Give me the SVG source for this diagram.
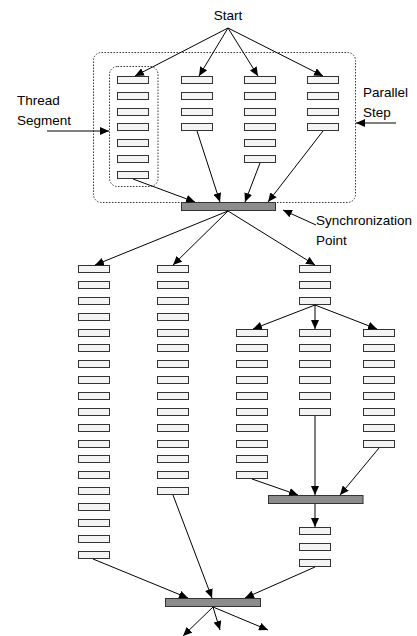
<svg xmlns="http://www.w3.org/2000/svg" width="417" height="636" viewBox="0 0 417 636">
<defs>
<marker id="ah" markerUnits="userSpaceOnUse" markerWidth="10" markerHeight="8" refX="9" refY="4" orient="auto">
<path d="M0,0 L9,4 L0,8 Z" fill="#000"/>
</marker>
<style>
.b{fill:#f4f4f4;stroke:#333;stroke-width:1}
.bar{fill:#8c8c8c;stroke:#333;stroke-width:1}
.fr{fill:none;stroke:#333;stroke-width:1;stroke-dasharray:1.5 1.5}
.c{stroke:#000;stroke-width:1;fill:none;marker-end:url(#ah)}
.t{font-family:"Liberation Sans",Arial,sans-serif;font-size:13.5px;fill:#000}
</style>
</defs>
<rect width="417" height="636" fill="#fff"/>
<g id="labels">
<text class="t" x="228" y="20" text-anchor="middle">Start</text>
<text class="t" x="17" y="105">Thread</text>
<text class="t" x="17" y="125">Segment</text>
<text class="t" x="363" y="97">Parallel</text>
<text class="t" x="363" y="117">Step</text>
<text class="t" x="316" y="225">Synchronization</text>
<text class="t" x="316" y="245">Point</text>
</g>
<g id="frames">
<rect id="parallel-step" class="fr" x="93.5" y="52.5" width="262" height="150" rx="8"/>
<rect id="thread-segment" class="fr" x="109.5" y="66.5" width="48.5" height="120" rx="8"/>
</g>
<g id="top-col1">
<rect class="b" x="117.5" y="76.5" width="31" height="7"/>
<rect class="b" x="117.5" y="92.5" width="31" height="7"/>
<rect class="b" x="117.5" y="108.5" width="31" height="7"/>
<rect class="b" x="117.5" y="123.5" width="31" height="7"/>
<rect class="b" x="117.5" y="139.5" width="31" height="7"/>
<rect class="b" x="117.5" y="155.5" width="31" height="7"/>
<rect class="b" x="117.5" y="171.5" width="31" height="7"/>
</g>
<g id="top-col2">
<rect class="b" x="181.5" y="76.5" width="31" height="7"/>
<rect class="b" x="181.5" y="92.5" width="31" height="7"/>
<rect class="b" x="181.5" y="108.5" width="31" height="7"/>
<rect class="b" x="181.5" y="123.5" width="31" height="7"/>
</g>
<g id="top-col3">
<rect class="b" x="244.5" y="76.5" width="31" height="7"/>
<rect class="b" x="244.5" y="92.5" width="31" height="7"/>
<rect class="b" x="244.5" y="108.5" width="31" height="7"/>
<rect class="b" x="244.5" y="123.5" width="31" height="7"/>
<rect class="b" x="244.5" y="139.5" width="31" height="7"/>
<rect class="b" x="244.5" y="155.5" width="31" height="7"/>
</g>
<g id="top-col4">
<rect class="b" x="307.5" y="76.5" width="31" height="7"/>
<rect class="b" x="307.5" y="92.5" width="31" height="7"/>
<rect class="b" x="307.5" y="108.5" width="31" height="7"/>
<rect class="b" x="307.5" y="123.5" width="31" height="7"/>
</g>
<g id="sync1"><rect class="bar" x="181.5" y="202.5" width="94" height="8"/></g>
<g id="colA">
<rect class="b" x="78.5" y="265.5" width="31" height="7"/>
<rect class="b" x="78.5" y="281.5" width="31" height="7"/>
<rect class="b" x="78.5" y="297.5" width="31" height="7"/>
<rect class="b" x="78.5" y="313.5" width="31" height="7"/>
<rect class="b" x="78.5" y="329.5" width="31" height="7"/>
<rect class="b" x="78.5" y="344.5" width="31" height="7"/>
<rect class="b" x="78.5" y="360.5" width="31" height="7"/>
<rect class="b" x="78.5" y="376.5" width="31" height="7"/>
<rect class="b" x="78.5" y="392.5" width="31" height="7"/>
<rect class="b" x="78.5" y="408.5" width="31" height="7"/>
<rect class="b" x="78.5" y="424.5" width="31" height="7"/>
<rect class="b" x="78.5" y="440.5" width="31" height="7"/>
<rect class="b" x="78.5" y="455.5" width="31" height="7"/>
<rect class="b" x="78.5" y="471.5" width="31" height="7"/>
<rect class="b" x="78.5" y="487.5" width="31" height="7"/>
<rect class="b" x="78.5" y="503.5" width="31" height="7"/>
<rect class="b" x="78.5" y="519.5" width="31" height="7"/>
<rect class="b" x="78.5" y="535.5" width="31" height="7"/>
<rect class="b" x="78.5" y="551.5" width="31" height="7"/>
</g>
<g id="colB">
<rect class="b" x="157.5" y="265.5" width="31" height="7"/>
<rect class="b" x="157.5" y="281.5" width="31" height="7"/>
<rect class="b" x="157.5" y="297.5" width="31" height="7"/>
<rect class="b" x="157.5" y="313.5" width="31" height="7"/>
<rect class="b" x="157.5" y="329.5" width="31" height="7"/>
<rect class="b" x="157.5" y="344.5" width="31" height="7"/>
<rect class="b" x="157.5" y="360.5" width="31" height="7"/>
<rect class="b" x="157.5" y="376.5" width="31" height="7"/>
<rect class="b" x="157.5" y="392.5" width="31" height="7"/>
<rect class="b" x="157.5" y="408.5" width="31" height="7"/>
<rect class="b" x="157.5" y="424.5" width="31" height="7"/>
<rect class="b" x="157.5" y="440.5" width="31" height="7"/>
<rect class="b" x="157.5" y="455.5" width="31" height="7"/>
<rect class="b" x="157.5" y="471.5" width="31" height="7"/>
<rect class="b" x="157.5" y="487.5" width="31" height="7"/>
</g>
<g id="colC">
<rect class="b" x="299.5" y="265.5" width="31" height="7"/>
<rect class="b" x="299.5" y="281.5" width="31" height="7"/>
<rect class="b" x="299.5" y="297.5" width="31" height="7"/>
</g>
<g id="subL">
<rect class="b" x="236.5" y="329.5" width="31" height="7"/>
<rect class="b" x="236.5" y="344.5" width="31" height="7"/>
<rect class="b" x="236.5" y="360.5" width="31" height="7"/>
<rect class="b" x="236.5" y="376.5" width="31" height="7"/>
<rect class="b" x="236.5" y="392.5" width="31" height="7"/>
<rect class="b" x="236.5" y="408.5" width="31" height="7"/>
<rect class="b" x="236.5" y="424.5" width="31" height="7"/>
<rect class="b" x="236.5" y="440.5" width="31" height="7"/>
<rect class="b" x="236.5" y="455.5" width="31" height="7"/>
<rect class="b" x="236.5" y="471.5" width="31" height="7"/>
</g>
<g id="subM">
<rect class="b" x="299.5" y="329.5" width="31" height="7"/>
<rect class="b" x="299.5" y="344.5" width="31" height="7"/>
<rect class="b" x="299.5" y="360.5" width="31" height="7"/>
<rect class="b" x="299.5" y="376.5" width="31" height="7"/>
<rect class="b" x="299.5" y="392.5" width="31" height="7"/>
<rect class="b" x="299.5" y="408.5" width="31" height="7"/>
</g>
<g id="subR">
<rect class="b" x="363.5" y="329.5" width="31" height="7"/>
<rect class="b" x="363.5" y="344.5" width="31" height="7"/>
<rect class="b" x="363.5" y="360.5" width="31" height="7"/>
<rect class="b" x="363.5" y="376.5" width="31" height="7"/>
<rect class="b" x="363.5" y="392.5" width="31" height="7"/>
<rect class="b" x="363.5" y="408.5" width="31" height="7"/>
<rect class="b" x="363.5" y="424.5" width="31" height="7"/>
<rect class="b" x="363.5" y="440.5" width="31" height="7"/>
</g>
<g id="sync2"><rect class="bar" x="268.5" y="495.5" width="94.5" height="8"/></g>
<g id="colD">
<rect class="b" x="299.5" y="527.5" width="31" height="7"/>
<rect class="b" x="299.5" y="543.5" width="31" height="7"/>
<rect class="b" x="299.5" y="559.5" width="31" height="7"/>
</g>
<g id="sync3"><rect class="bar" x="165.5" y="598.5" width="95" height="8"/></g>
<g id="connectors">
<line class="c" x1="228" y1="28" x2="135" y2="76"/>
<line class="c" x1="228" y1="28" x2="199" y2="76"/>
<line class="c" x1="228" y1="28" x2="258" y2="76"/>
<line class="c" x1="228" y1="28" x2="323" y2="76"/>
<line class="c" x1="47" y1="131" x2="109" y2="131"/>
<line class="c" x1="396" y1="123" x2="356" y2="123"/>
<line class="c" x1="133" y1="179" x2="195" y2="202"/>
<line class="c" x1="197" y1="131" x2="220" y2="202"/>
<line class="c" x1="260" y1="163" x2="245" y2="202"/>
<line class="c" x1="323" y1="131" x2="268" y2="202"/>
<line class="c" x1="316" y1="225" x2="283" y2="210"/>
<line class="c" x1="228" y1="211" x2="95" y2="265"/>
<line class="c" x1="228" y1="211" x2="173" y2="265"/>
<line class="c" x1="228" y1="211" x2="315" y2="265"/>
<line class="c" x1="315" y1="305" x2="253" y2="329"/>
<line class="c" x1="315" y1="305" x2="315" y2="329"/>
<line class="c" x1="315" y1="305" x2="377" y2="329"/>
<line class="c" x1="252" y1="479" x2="298" y2="495"/>
<line class="c" x1="315" y1="416" x2="315" y2="495"/>
<line class="c" x1="379" y1="448" x2="340" y2="495"/>
<line class="c" x1="315" y1="504" x2="315" y2="527"/>
<line class="c" x1="93" y1="559" x2="188" y2="598"/>
<line class="c" x1="173" y1="495" x2="212" y2="598"/>
<line class="c" x1="315" y1="567" x2="245" y2="598"/>
<line class="c" x1="213" y1="607" x2="183" y2="636"/>
<line class="c" x1="213" y1="607" x2="220" y2="630"/>
<line class="c" x1="213" y1="607" x2="268" y2="630"/>
</g>
</svg>
